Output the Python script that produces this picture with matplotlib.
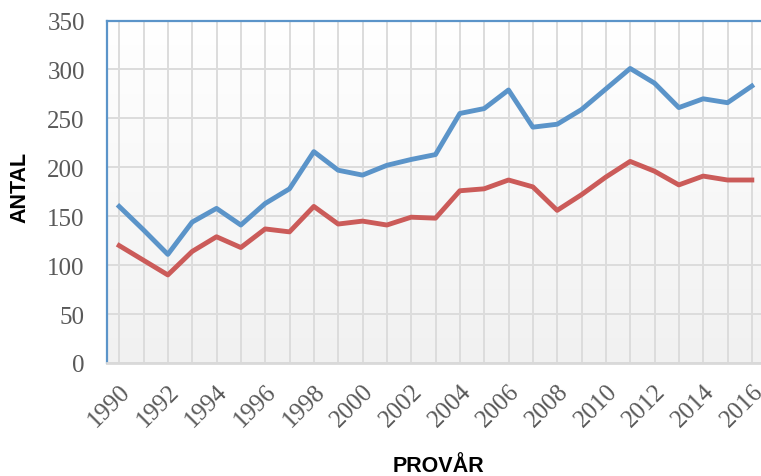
import numpy as np
import matplotlib
matplotlib.use("Agg")
import matplotlib.pyplot as plt

plt.rcParams['font.family'] = ['Liberation Serif', 'DejaVu Serif']

years = list(range(1990, 2017))
blue = [160, 136, 111, 144, 158, 141, 163, 178, 216, 197, 192, 202, 208, 213,
        255, 260, 279, 241, 244, 259, 280, 301, 286, 261, 270, 266, 283]
red = [120, 105, 90, 114, 129, 118, 137, 134, 160, 142, 145, 141, 149, 148,
       176, 178, 187, 180, 156, 172, 190, 206, 196, 182, 191, 187, 187]
yticks = [0, 50, 100, 150, 200, 250, 300, 350]
xtick_years = years[::2]

W, H = 761, 477
fig = plt.figure(figsize=(W / 100, H / 100), dpi=100)
ax = fig.add_axes([107 / W, (H - 364) / H, (764 - 107) / W, (364 - 21.5) / H])

# gradient background, white at top -> light grey at bottom
grad = np.linspace(0.0, 1.0, 256).reshape(-1, 1)
cmap = matplotlib.colors.LinearSegmentedColormap.from_list("bg", ["#f1f1f1", "#ffffff"])
ax.imshow(grad, extent=[1989.5, 2016.5, 0, 350], aspect="auto", cmap=cmap,
          origin="lower", zorder=0)

ax.set_xlim(1989.5, 2016.5)
ax.set_ylim(0, 350)

ax.set_yticks(yticks)
ax.set_xticks(years)
ax.grid(True, color="#dcdcdc", linewidth=1.4, zorder=1)
ax.set_axisbelow(True)

ax.plot(years, blue, color="#5b94c9", linewidth=3.5, zorder=3)
ax.plot(years, red, color="#cb5b59", linewidth=3.5, zorder=3)

ax.set_xticklabels([str(y) if y in xtick_years else "" for y in years],
                   rotation=45, ha="right", va="top", rotation_mode="anchor")
ax.tick_params(axis="both", length=0, labelsize=18, labelcolor="#595959")
ax.tick_params(axis="y", pad=16)
ax.tick_params(axis="x", pad=12)

for s in ["top", "left"]:
    ax.spines[s].set_color("#5b94c9")
    ax.spines[s].set_linewidth(1.6)
ax.spines["right"].set_visible(False)
ax.spines["bottom"].set_color("#d9d9d9")
ax.spines["bottom"].set_linewidth(2)

lab_font = ["Liberation Sans Narrow", "Liberation Sans", "DejaVu Sans"]
fig.text(20 / W, 1 - 187 / H, "ANTAL", rotation=90, ha="center", va="center",
         fontsize=15.5, fontweight="bold", family=lab_font, color="black")
fig.text(438 / W, 1 - 467 / H, "PROVÅR", ha="center", va="center",
         fontsize=15.5, fontweight="bold", family=lab_font, color="black")

fig.savefig("out.png", dpi=100)
